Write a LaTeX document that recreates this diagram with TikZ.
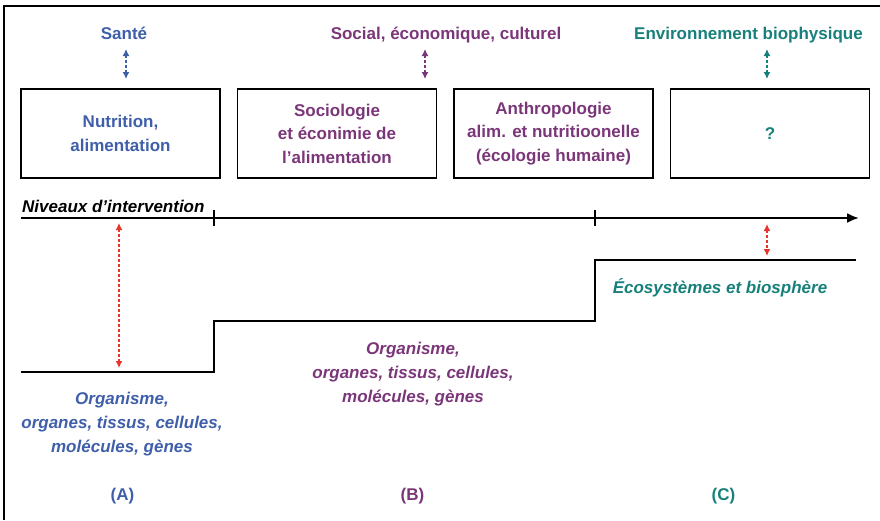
\documentclass[tikz,border=0pt]{standalone}
\usepackage{fontspec}
\setmainfont{Liberation Sans}
\usetikzlibrary{arrows.meta,positioning}
\definecolor{cblue}{HTML}{3F5FAA}
\definecolor{cpurple}{HTML}{7B3679}
\definecolor{cteal}{HTML}{17807A}
\definecolor{cred}{HTML}{E8352C}
\tikzstyle{bx} = [rectangle, draw, line width=1.5pt, minimum width=199pt,
    minimum height=89pt, align=center, font=\bfseries\fontsize{17}{23.5}\selectfont]
\tikzstyle{lb} = [font=\bfseries\fontsize{17}{23.5}\selectfont, inner sep=0pt]
\tikzstyle{it} = [font=\bfseries\itshape\fontsize{17}{24}\selectfont, align=center, inner sep=0pt]
\tikzstyle{dar} = [line width=2pt, dash pattern=on 2.5pt off 2.5pt,
    {Latex[length=7pt,width=7pt]}-{Latex[length=7pt,width=7pt]}]
\tikzstyle{ln} = [line width=2.2pt]

\begin{document}
\begin{tikzpicture}[x=1pt,y=-1pt]
  \useasboundingbox (0,0) rectangle (880,520);
  \draw[ln] (880,6) -- (4,6) -- (4,520);

  % domaines
  \node[lb,text=cblue,anchor=base] (s) at (124,39) {Santé};
  \node[lb,text=cpurple,anchor=base] (sc) at (446,39) {Social, économique, culturel};
  \node[lb,text=cteal,anchor=base] (env) at (748.5,39) {Environnement biophysique};

  % disciplines
  \node[bx,text=cblue] (b1) at (120.5,133.5) {Nutrition,\\alimentation};
  \node[bx,text=cpurple,right=16pt of b1] (b2) {Sociologie\\et éconimie de\\l’alimentation};
  \node[bx,text=cpurple,right=16pt of b2] (b3) {Anthropologie\\alim. et nutritioonelle\\(écologie humaine)};
  \node[bx,text=cteal,right=16pt of b3] (b4) {?};

  \coordinate (s1) at (126,49);   \coordinate (s2) at (126,79);
  \coordinate (sc1) at (425,49);  \coordinate (sc2) at (425,79);
  \coordinate (env1) at (767,49); \coordinate (env2) at (767,79);
  \path[dar,cblue] (s1) edge (s2);
  \path[dar,cpurple] (sc1) edge (sc2);
  \path[dar,cteal] (env1) edge (env2);

  % axe
  \node[lb,font=\bfseries\itshape\fontsize{17}{20}\selectfont,anchor=base west] (niv) at (22,212) {Niveaux d’intervention};
  \coordinate (ax0) at (21,218);
  \coordinate (ax1) at (859,218);
  \draw[ln,-{Latex[length=12pt,width=10pt]}] (ax0) -- (ax1);
  \draw[ln] (214,210) -- (214,226);
  \draw[ln] (595,210) -- (595,226);

  % niveaux
  \coordinate (p0) at (21,372);
  \coordinate (p1) at (214,321);
  \coordinate (p2) at (595,260);
  \coordinate (p3) at (856,260);
  \draw[ln] (p0) -| (p1) -| (p2) -- (p3);

  \coordinate (r1) at (119,223); \coordinate (r2) at (119,368);
  \coordinate (r3) at (767,224); \coordinate (r4) at (767,256);
  \path[dar,cred] (r1) edge (r2);
  \path[dar,cred] (r3) edge (r4);

  \node[it,text=cblue] (oa) at (122,424) {Organisme,\\organes, tissus, cellules,\\molécules, gènes};
  \node[it,text=cpurple] (ob) at (413,374) {Organisme,\\organes, tissus, cellules,\\molécules, gènes};
  \node[it,text=cteal,anchor=base] (eco) at (720,293) {Écosystèmes et biosphère};

  \node[lb,text=cblue] (A) at (122.5,496) {(A)};
  \node[lb,text=cpurple] (B) at (412.5,496) {(B)};
  \node[lb,text=cteal] (C) at (723.5,496) {(C)};
\end{tikzpicture}
\end{document}
